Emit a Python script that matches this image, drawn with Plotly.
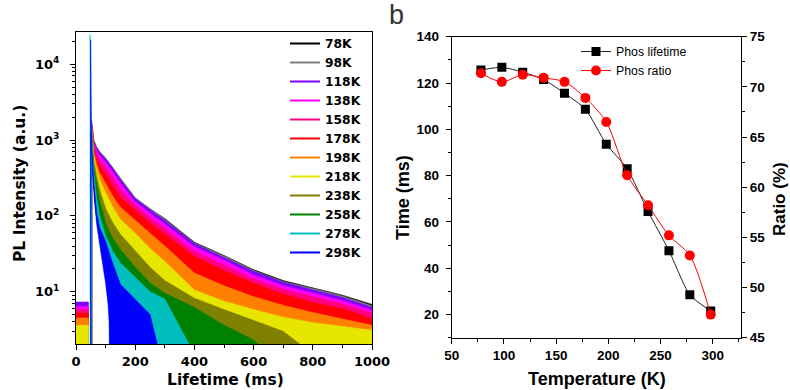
import plotly.graph_objects as go

# ---------------- data: panel a (PL decay curves) ----------------
LABELS = ["78K", "98K", "118K", "138K", "158K", "178K", "198K", "218K", "238K", "258K", "278K", "298K"]
COLORS = ["#000000", "#808080", "#8000ff", "#ff00ff", "#ff0080", "#ff0000",
          "#ff8000", "#e6e600", "#808000", "#008000", "#00bebe", "#0000ff"]

# times (ms) at which the upper noise edge of each decay was read
TIME_GRID = [52, 55, 60, 70, 80, 100, 125, 150, 200, 250, 300, 400, 500, 600, 700, 800, 900, 1000]

UPPER_78K = [1800, 1500, 990, 800, 700, 575, 430, 310, 172, 124, 92, 45, 30, 19.5, 14, 11.2, 9, 6.8]
UPPER_98K = [1800, 1520, 1000, 810, 705, 580, 432, 312, 174, 125, 90, 44, 29.5, 19, 13.6, 11, 8.8, 6.5]
UPPER_118K = [1800, 1450, 950, 780, 680, 560, 420, 300, 168, 120, 87, 43, 28.5, 18.5, 13.3, 10.6, 8.4, 6.2]
UPPER_138K = [1750, 1400, 900, 730, 630, 510, 380, 270, 152, 108, 78, 39, 26, 16.5, 12, 9.6, 7.6, 5.7]
UPPER_158K = [1700, 1350, 850, 650, 550, 440, 320, 225, 138, 95, 68, 34, 22.5, 14.8, 10.8, 8.6, 6.9, 5.2]
UPPER_178K = [1700, 1300, 780, 560, 450, 350, 245, 175, 119, 80, 57, 29, 19, 12.9, 9.3, 7.2, 6, 4.4]
UPPER_198K = [1650, 1200, 700, 480, 370, 270, 180, 130, 88, 58, 40, 17.6, 12, 8.6, 6.6, 5.3, 4.4, 3.6]
UPPER_218K = [1600, 1100, 620, 400, 300, 200, 130, 90, 59, 37, 25, 10.5, 7.5, 5.8, 4.6, 3.9, 3.5, 3.1]
UPPER_238K = [1550, 1000, 540, 330, 220, 125, 80, 57, 35, 21, 14, 8.2, 5.8, 4.2, 3.0, 1.5, 1, 1]
UPPER_258K = [1500, 900, 450, 260, 160, 80, 50, 36, 21, 13, 9.5, 6.2, 3.6, 2.3, 1, 1, 1, 1]
UPPER_278K = [1100, 800, 380, 170, 100, 55, 34, 24, 15.5, 10, 8, 1.5, 1, 1, 1, 1, 1, 1]
UPPER_298K = [900, 600, 280, 110, 70, 46, 23, 12.5, 7.8, 5.0, 0.8, 1, 1, 1, 1, 1, 1, 1]
UPPERS = [UPPER_78K, UPPER_98K, UPPER_118K, UPPER_138K, UPPER_158K, UPPER_178K,
          UPPER_198K, UPPER_218K, UPPER_238K, UPPER_258K, UPPER_278K, UPPER_298K]

# excitation spike: time (ms) and peak counts
SPIKE_TIME = [51, 51, 51, 51, 51, 51, 51, 51, 51, 51, 47.5, 49.5]
SPIKE_PEAK = [1800, 1800, 1850, 1800, 1750, 1700, 1650, 1600, 1550, 1500, 24500, 21000]
# pre-excitation background noise level (0-42 ms)
BASE_LEVEL = [4.6, 5.0, 7.3, 6.4, 5.8, 5.2, 4.5, 3.6, 1, 1, 1, 1]
BASE_END = 42

# lower noise edge of the 298K decay (white gap below it)
LOWER_298K_T = [50.5, 53, 57, 62, 70, 80, 90, 100, 108, 112, 114]
LOWER_298K_V = [1200, 600, 320, 160, 78, 42, 25, 13, 7, 4, 1]
# lower noise edge of the slower decays (hidden under the 298K band)
LOWER_OTHER_T = [53, 57, 62, 70, 80, 90, 100, 108, 113, 114]
LOWER_OTHER_V = [700, 380, 200, 95, 55, 48, 40, 32, 26, 1]

# ---------------- data: panel b ----------------
TEMPERATURE = [78, 98, 118, 138, 158, 178, 198, 218, 238, 258, 278, 298]
PHOS_LIFETIME = [125.6, 126.8, 124.7, 121.5, 115.6, 108.7, 93.6, 83.0, 64.5, 47.6, 28.5, 21.5]
PHOS_RATIO = [71.35, 70.5, 71.2, 70.9, 70.5, 68.9, 66.5, 61.2, 58.2, 55.2, 53.2, 47.3]

FONT_A = "DejaVu Sans, sans-serif"
FONT_B = "Liberation Sans, Arial, sans-serif"
FLOOR = 1
W, H = 790, 390

fig = go.Figure()

# legend entries (panel a)
for lab, col in zip(LABELS, COLORS):
    fig.add_trace(go.Scatter(x=[None], y=[None], mode="lines", name=lab,
                             line=dict(color=col, width=2), legend="legend",
                             xaxis="x", yaxis="y"))

# decay bands
for i, (lab, col) in enumerate(zip(LABELS, COLORS)):
    xs = [0, BASE_END, BASE_END, SPIKE_TIME[i], SPIKE_TIME[i]] + TIME_GRID
    ys = [BASE_LEVEL[i], BASE_LEVEL[i], FLOOR, FLOOR, SPIKE_PEAK[i]] + UPPERS[i]
    if lab == "298K":
        lt, lv = LOWER_298K_T, LOWER_298K_V
    else:
        lt, lv = LOWER_OTHER_T, LOWER_OTHER_V
    xs += [TIME_GRID[-1]] + lt[::-1] + [lt[0], 0]
    ys += [FLOOR] + lv[::-1] + [FLOOR, FLOOR]
    fig.add_trace(go.Scatter(x=xs, y=ys, mode="lines", fill="toself", fillcolor=col,
                             line=dict(color=col, width=0.6), showlegend=False,
                             hoverinfo="skip", xaxis="x", yaxis="y"))

# panel b traces
fig.add_trace(go.Scatter(x=TEMPERATURE, y=PHOS_LIFETIME, mode="lines+markers", name="Phos lifetime",
                         line=dict(color="#222222", width=1, shape="spline", smoothing=0.6),
                         marker=dict(symbol="square", size=9, color="black"),
                         legend="legend2", xaxis="x2", yaxis="y2"))
fig.add_trace(go.Scatter(x=TEMPERATURE, y=PHOS_RATIO, mode="lines+markers", name="Phos ratio",
                         line=dict(color="#ff0000", width=1, shape="spline", smoothing=0.8),
                         marker=dict(symbol="circle", size=10, color="#ff0000"),
                         legend="legend2", xaxis="x2", yaxis="y3"))

tick_a = dict(family=FONT_A, size=13, color="black", weight="bold")
tick_b = dict(family=FONT_B, size=13.5, color="black", weight="bold")
title_a = dict(family=FONT_A, size=15.5, color="black", weight="bold")
title_b = dict(family=FONT_B, size=18, color="black", weight="bold")
common = dict(showline=True, linecolor="black", linewidth=1, ticks="outside", tickcolor="black",
              tickwidth=1, ticklen=5, showgrid=False, zeroline=False, automargin=False)

ax_l = [76 / W, 372 / W]
ay_l = [(H - 344) / H, (H - 31.6) / H]
ax_r = [451.7 / W, 741 / W]
ay_r = [(H - 337.7) / H, (H - 36.7) / H]

def ann(text, x, y, font, angle=0):
    return dict(text=text, x=x / W, y=(H - y) / H, xref="paper", yref="paper",
                showarrow=False, font=font, textangle=angle, xanchor="center", yanchor="middle")

fig.update_layout(
    width=W, height=H, margin=dict(l=0, r=0, t=0, b=0),
    paper_bgcolor="white", plot_bgcolor="white", hovermode=False,
    xaxis=dict(domain=ax_l, anchor="y", range=[0, 1000], dtick=200, tick0=0, mirror=True,
               tickfont=tick_a,
               minor=dict(ticks="outside", ticklen=3, dtick=100, tickcolor="black"), **common),
    yaxis=dict(domain=ay_l, anchor="x", type="log", range=[0.31, 4.43], mirror=True,
               tickmode="array", tickvals=[10, 100, 1000, 10000],
               ticktext=["10<sup>1</sup>", "10<sup>2</sup>", "10<sup>3</sup>", "10<sup>4</sup>"],
               tickfont=tick_a, ticklabelstandoff=8,
               minor=dict(ticks="outside", ticklen=3, dtick="D1", tickcolor="black"), **common),
    xaxis2=dict(domain=ax_r, anchor="y2", range=[50, 327], dtick=50, tick0=50, mirror=True,
                tickfont=tick_b,
                minor=dict(ticks="outside", ticklen=3, dtick=25, tickcolor="black"), **common),
    yaxis2=dict(domain=ay_r, anchor="x2", range=[10, 140], dtick=20, tick0=20,
                tickfont=tick_b, ticklabelstandoff=4,
                minor=dict(ticks="outside", ticklen=3, dtick=10, tick0=10, tickcolor="black"), **common),
    yaxis3=dict(anchor="x2", overlaying="y2", side="right", range=[45, 75], dtick=5, tick0=45,
                tickfont=tick_b,
                minor=dict(ticks="outside", ticklen=3, dtick=2.5, tick0=45, tickcolor="black"), **common),
    legend=dict(x=285 / W, y=(H - 29) / H, xanchor="left", yanchor="top", bgcolor="rgba(0,0,0,0)",
                font=dict(family=FONT_A, size=12.3, color="black", weight="bold"),
                tracegroupgap=0, itemwidth=30, borderwidth=0),
    legend2=dict(x=576 / W, y=(H - 37) / H, xanchor="left", yanchor="top", bgcolor="rgba(0,0,0,0)",
                 font=dict(family=FONT_B, size=12.3, color="black"),
                 tracegroupgap=0, itemwidth=30, borderwidth=0),
    annotations=[
        ann("b", 396, 15, dict(family=FONT_B, size=27, color="#333333")),
        ann("PL Intensity (a.u.)", 20, 184, title_a, -90),
        ann("Lifetime (ms)", 225, 380, title_a),
        ann("Time (ms)", 403, 198, title_b, -90),
        ann("Ratio (%)", 779, 199, dict(family=FONT_B, size=17, color="black", weight="bold"), -90),
        ann("Temperature (K)", 597, 379, title_b),
    ],
)

fig.write_html("out.html", config={"displayModeBar": False, "staticPlot": True},
               post_script="document.body.style.margin='0';document.body.style.padding='0';"
                           "document.documentElement.style.overflow='hidden';")
